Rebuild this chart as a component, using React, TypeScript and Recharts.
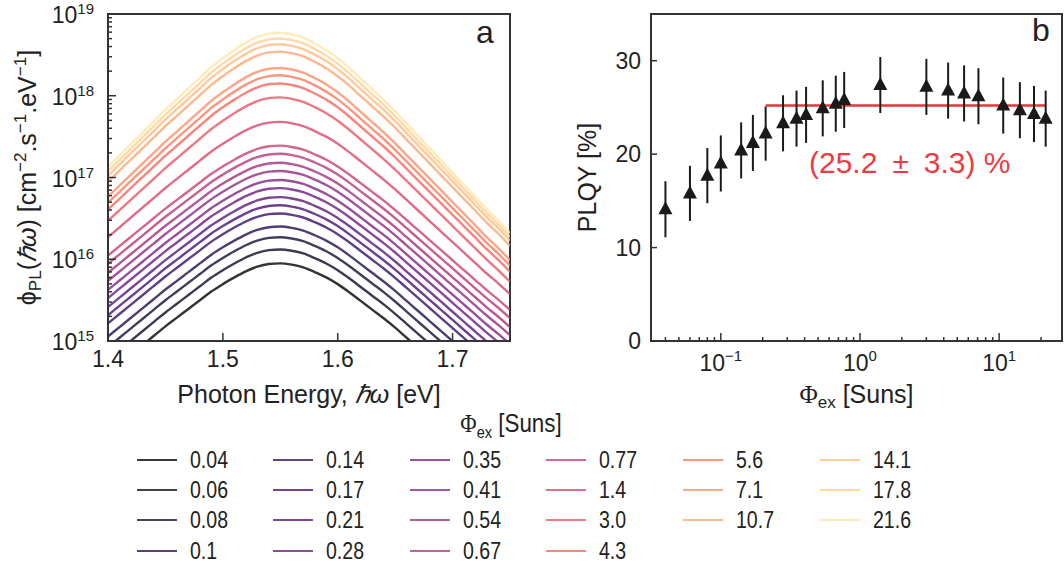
import React from 'react'
import {
  ComposedChart,
  ErrorBar,
  Line,
  LineChart,
  ReferenceArea,
  ReferenceDot,
  ReferenceLine,
  Scatter,
  XAxis,
  YAxis
} from 'recharts'

// excitation intensities (Suns) and legend labels
const suns = [0.04, 0.06, 0.08, 0.1, 0.14, 0.17, 0.21, 0.28, 0.35, 0.41, 0.54, 0.67, 0.77, 1.4, 3.0, 4.3, 5.6, 7.1, 10.7, 14.1, 17.8, 21.6]
const sunLabels = ['0.04', '0.06', '0.08', '0.1', '0.14', '0.17', '0.21', '0.28', '0.35', '0.41', '0.54', '0.67', '0.77', '1.4', '3.0', '4.3', '5.6', '7.1', '10.7', '14.1', '17.8', '21.6']

// panel a: log10 of the peak flux of each spectrum, read at ~1.55 eV
const peakLog = [15.95, 16.12, 16.27, 16.4, 16.56, 16.66, 16.76, 16.87, 16.97, 17.08, 17.18, 17.29, 17.39, 17.68, 17.98, 18.15, 18.25, 18.34, 18.54, 18.63, 18.7, 18.77]
// relative width of the tails (lower curves are a bit flatter)
const tailScale = [0.82, 0.82, 0.82, 0.82, 0.82, 0.82, 0.82, 0.82, 0.82, 0.82, 0.82, 0.82, 0.82, 0.86, 0.92, 0.94, 0.95, 0.96, 0.97, 0.98, 0.99, 1.0]
// photon energy grid and decades below the peak
const energies = [1.4, 1.41, 1.42, 1.43, 1.44, 1.45, 1.46, 1.47, 1.48, 1.49, 1.5, 1.51, 1.52, 1.53, 1.54, 1.55, 1.56, 1.57, 1.58, 1.59, 1.6, 1.61, 1.62, 1.63, 1.64, 1.65, 1.66, 1.67, 1.68, 1.69, 1.7, 1.71, 1.72, 1.73, 1.74, 1.75]
const dropFromPeak = [1.64, 1.5, 1.36, 1.22, 1.08, 0.94, 0.81, 0.68, 0.55, 0.42, 0.31, 0.21, 0.12, 0.05, 0.01, 0.0, 0.02, 0.06, 0.13, 0.21, 0.31, 0.43, 0.56, 0.69, 0.82, 0.96, 1.11, 1.26, 1.41, 1.56, 1.71, 1.86, 2.01, 2.16, 2.3, 2.45]

const colors = ['#000004', '#0b0924', '#120d32', '#220e4b', '#340f65', '#461274', '#58177b', '#6b1c80', '#7d2381', '#8f2a80', '#a2307d', '#b63779', '#c83f72', '#d9476a', '#e65664', '#f2685e', '#f97b60', '#fc9068', '#fea672', '#febc83', '#fed194', '#fde6a8']

// panel b: PLQY with error bars
const plqy = [14.1, 15.8, 17.7, 19.0, 20.4, 21.2, 22.2, 23.3, 23.8, 24.2, 24.9, 25.4, 25.8, 27.4, 27.2, 26.8, 26.5, 26.2, 25.2, 24.7, 24.3, 23.8]
const plqyErr = [3.0, 2.95, 2.95, 3.0, 3.0, 3.0, 2.9, 3.0, 3.0, 3.0, 3.0, 3.0, 3.0, 3.0, 3.0, 3.0, 3.0, 3.0, 3.0, 3.0, 3.0, 3.0]
const fitValue = 25.2
const fitRange = [0.21, 21.6]

const yTickExpA = [15, 16, 17, 18, 19]
const xTicksA = [1.4, 1.5, 1.6, 1.7]
const minorMult = [2, 3, 4, 5, 6, 7, 8, 9]
const xTickExpB = [-2, -1, 0, 1]
const yTicksB = [0, 10, 20, 30]

const FONT = '"Liberation Sans", Arial, Helvetica, sans-serif'
const AXIS = '#333'
const TXT = '#222'

const spectra = energies.map((e, j) => {
  const row: Record<string, number> = { e }
  peakLog.forEach((p, i) => {
    row['s' + i] = Math.pow(10, p - dropFromPeak[j] * tailScale[i])
  })
  return row
})

const yTicksA: number[] = []
yTickExpA.forEach((k) => {
  yTicksA.push(Math.pow(10, k))
  if (k < 19) minorMult.forEach((m) => yTicksA.push(m * Math.pow(10, k)))
})

const xTicksB: number[] = []
xTickExpB.forEach((k) => {
  xTicksB.push(Math.pow(10, k))
  minorMult.forEach((m) => xTicksB.push(m * Math.pow(10, k)))
})
const xTicksBIn = xTicksB.filter((v) => v >= 0.0315 && v <= 28.3)

const plqyData = suns.map((s, i) => ({ x: s, y: plqy[i], err: plqyErr[i] }))

const isMajor = (v: number) => {
  const l = Math.log10(v)
  return Math.abs(l - Math.round(l)) < 1e-6
}

function LogTickLeft(props: any) {
  const { x, y, payload } = props
  const v = payload.value
  const major = isMajor(v)
  return (
    <g>
      <line x1={x} x2={x + (major ? 8 : 4)} y1={y} y2={y} stroke={AXIS} strokeWidth={1.5} />
      {major && (
        <text x={x - 14} y={y + 9} textAnchor="end" fontSize={23} fill={TXT} fontFamily={FONT}>
          <tspan>10</tspan>
          <tspan dy={-9} fontSize={15}>{Math.round(Math.log10(v))}</tspan>
        </text>
      )}
    </g>
  )
}

function TickBottomA(props: any) {
  const { x, y, payload } = props
  return (
    <g>
      <line x1={x} x2={x} y1={y} y2={y - 8} stroke={AXIS} strokeWidth={1.5} />
      <text x={x} y={y + 26} textAnchor="middle" fontSize={23} fill={TXT} fontFamily={FONT}>
        {Number(payload.value).toFixed(1)}
      </text>
    </g>
  )
}

function LogTickBottom(props: any) {
  const { x, y, payload } = props
  const v = payload.value
  const major = isMajor(v)
  const exp = Math.round(Math.log10(v))
  return (
    <g>
      <line x1={x} x2={x} y1={y} y2={y - (major ? 8 : 4)} stroke={AXIS} strokeWidth={1.5} />
      {major && (
        <text x={x} y={y + 30} textAnchor="middle" fontSize={23} fill={TXT} fontFamily={FONT}>
          <tspan>10</tspan>
          <tspan dy={-10} fontSize={15}>{exp < 0 ? '\u2212' + Math.abs(exp) : String(exp)}</tspan>
        </text>
      )}
    </g>
  )
}

function TickLeftB(props: any) {
  const { x, y, payload } = props
  return (
    <g>
      <line x1={x} x2={x + 6} y1={y} y2={y} stroke={AXIS} strokeWidth={1.5} />
      <text x={x - 10} y={y + 8} textAnchor="end" fontSize={23} fill={TXT} fontFamily={FONT}>
        {payload.value}
      </text>
    </g>
  )
}

function Triangle(props: any) {
  const { cx, cy } = props
  if (cx == null || cy == null) return null
  return <polygon points={`${cx},${cy - 8} ${cx - 7},${cy + 5} ${cx + 7},${cy + 5}`} fill="#1a1a1a" />
}

function TitleYA(props: any) {
  const vb = props.viewBox
  const cx = 27
  const cy = vb.y + vb.height / 2
  return (
    <text transform={`rotate(-90 ${cx} ${cy})`} x={cx} y={cy + 9} textAnchor="middle" fontSize={25} fill={TXT} fontFamily={FONT}>
      <tspan>ϕ</tspan>
      <tspan dy={5} fontSize={17}>PL</tspan>
      <tspan dy={-5}>(</tspan>
      <tspan fontStyle="italic">ℏω</tspan>
      <tspan>) [cm</tspan>
      <tspan dy={-10} fontSize={17}>−2</tspan>
      <tspan dy={10}>.s</tspan>
      <tspan dy={-10} fontSize={17}>−1</tspan>
      <tspan dy={10}>.eV</tspan>
      <tspan dy={-10} fontSize={17}>−1</tspan>
      <tspan dy={10}>]</tspan>
    </text>
  )
}

function TitleXA(props: any) {
  const vb = props.viewBox
  return (
    <text x={vb.x + vb.width / 2} y={vb.y + 62} textAnchor="middle" fontSize={25} fill={TXT} fontFamily={FONT}>
      <tspan>Photon Energy, </tspan>
      <tspan fontStyle="italic">ℏω</tspan>
      <tspan> [eV]</tspan>
    </text>
  )
}

function TitleXB(props: any) {
  const vb = props.viewBox
  return (
    <text x={vb.x + vb.width / 2} y={vb.y + 62} textAnchor="middle" fontSize={25} fill={TXT} fontFamily={FONT}>
      <tspan fontFamily='"Liberation Serif", serif'>Φ</tspan>
      <tspan dy={5} fontSize={17}>ex</tspan>
      <tspan dy={-5}> [Suns]</tspan>
    </text>
  )
}

function TitleYB(props: any) {
  const vb = props.viewBox
  const cx = 27
  const cy = vb.y + vb.height / 2
  return (
    <text transform={`rotate(-90 ${cx} ${cy})`} x={cx} y={cy + 9} textAnchor="middle" fontSize={25} fill={TXT} fontFamily={FONT}>
      PLQY [%]
    </text>
  )
}

const legendX = [137, 273, 410, 546, 683, 820]
const legendY = [460, 490, 520, 551]

function SpectraLegend() {
  return (
    <>
      <div
        style={{
          position: 'absolute',
          left: 361,
          width: 300,
          top: 408,
          textAlign: 'center',
          fontSize: 26,
          color: TXT,
          fontFamily: FONT,
          transform: 'scaleX(0.86)'
        }}
      >
        <span style={{ fontFamily: '"Liberation Serif", serif' }}>Φ</span>
        <sub style={{ fontSize: 17 }}>ex</sub> [Suns]
      </div>
      {sunLabels.map((lab, i) => {
        const col = i < 16 ? Math.floor(i / 4) : 4 + Math.floor((i - 16) / 3)
        const row = i < 16 ? i % 4 : (i - 16) % 3
        return (
          <div key={lab} style={{ position: 'absolute', left: legendX[col], top: legendY[row] - 14, height: 28, display: 'flex', alignItems: 'center' }}>
            <div style={{ width: 40, height: 2, background: colors[i], opacity: 0.78 }} />
            <span
              style={{
                display: 'inline-block',
                marginLeft: 13,
                fontSize: 23,
                color: TXT,
                fontFamily: FONT,
                transform: 'scaleX(0.85)',
                transformOrigin: 'left center'
              }}
            >
              {lab}
            </span>
          </div>
        )
      })}
    </>
  )
}

export default function App() {
  return (
    <div style={{ position: 'absolute', left: 0, top: 0, width: 1064, height: 567, background: '#fff', overflow: 'hidden', fontFamily: FONT }}>
      <div style={{ position: 'absolute', left: 0, top: 0 }}>
        <LineChart width={530} height={420} data={spectra} margin={{ top: 14, right: 20, left: 0, bottom: 0 }}>
          <XAxis
            dataKey="e"
            type="number"
            domain={[1.4, 1.75]}
            allowDataOverflow
            ticks={xTicksA}
            interval={0}
            tick={<TickBottomA />}
            tickLine={false}
            tickSize={0}
            tickMargin={0}
            height={79}
            axisLine={{ stroke: AXIS, strokeWidth: 2 }}
            label={(p: any) => <TitleXA {...p} />}
          />
          <YAxis
            type="number"
            scale="log"
            domain={[1e15, 1e19]}
            allowDataOverflow
            ticks={yTicksA}
            interval={0}
            tick={<LogTickLeft />}
            tickLine={false}
            tickSize={0}
            tickMargin={0}
            width={108}
            axisLine={{ stroke: AXIS, strokeWidth: 2 }}
            label={(p: any) => <TitleYA {...p} />}
          />
          {peakLog.map((_, i) => (
            <Line
              key={i}
              dataKey={'s' + i}
              type="monotone"
              stroke={colors[i]}
              strokeOpacity={0.8}
              strokeWidth={2.4}
              dot={false}
              activeDot={false}
              isAnimationActive={false}
            />
          ))}
          <ReferenceArea x1={1.4} x2={1.75} y1={1e15} y2={1e19} fill="none" stroke={AXIS} strokeWidth={2} />
        </LineChart>
      </div>

      <div style={{ position: 'absolute', left: 560, top: 0 }}>
        <ComposedChart width={504} height={420} margin={{ top: 14, right: 2, left: 0, bottom: 0 }}>
          <XAxis
            dataKey="x"
            type="number"
            scale="log"
            domain={[0.0315, 28.3]}
            allowDataOverflow
            ticks={xTicksBIn}
            interval={0}
            tick={<LogTickBottom />}
            tickLine={false}
            tickSize={0}
            tickMargin={0}
            height={79}
            axisLine={{ stroke: AXIS, strokeWidth: 2 }}
            label={(p: any) => <TitleXB {...p} />}
          />
          <YAxis
            dataKey="y"
            type="number"
            domain={[0, 35]}
            allowDataOverflow
            ticks={yTicksB}
            interval={0}
            tick={<TickLeftB />}
            tickLine={false}
            tickSize={0}
            tickMargin={0}
            width={91}
            axisLine={{ stroke: AXIS, strokeWidth: 2 }}
            label={(p: any) => <TitleYB {...p} />}
          />
          <ReferenceArea x1={0.0315} x2={28.3} y1={0} y2={35} fill="none" stroke={AXIS} strokeWidth={2} />
          <ReferenceLine
            segment={[
              { x: fitRange[0], y: fitValue },
              { x: fitRange[1], y: fitValue }
            ]}
            stroke="#e8343c"
            strokeWidth={2.5}
          />
          <Scatter data={plqyData} dataKey="y" shape={(p: any) => <Triangle {...p} />} isAnimationActive={false}>
            <ErrorBar dataKey="err" direction="y" width={0} stroke="#1a1a1a" strokeWidth={2} isAnimationActive={false} />
          </Scatter>
          <ReferenceDot
            x={2.28}
            y={19.1}
            r={0}
            fill="none"
            stroke="none"
            label={{ value: '(25.2\u2002±\u20023.3) %', position: 'center', fill: '#ee3a43', fontSize: 30, fontFamily: FONT }}
          />
        </ComposedChart>
      </div>

      <div style={{ position: 'absolute', left: 476, top: 14, fontSize: 32, color: TXT }}>a</div>
      <div style={{ position: 'absolute', left: 1032, top: 12, fontSize: 32, color: TXT }}>b</div>

      <SpectraLegend />
    </div>
  )
}
